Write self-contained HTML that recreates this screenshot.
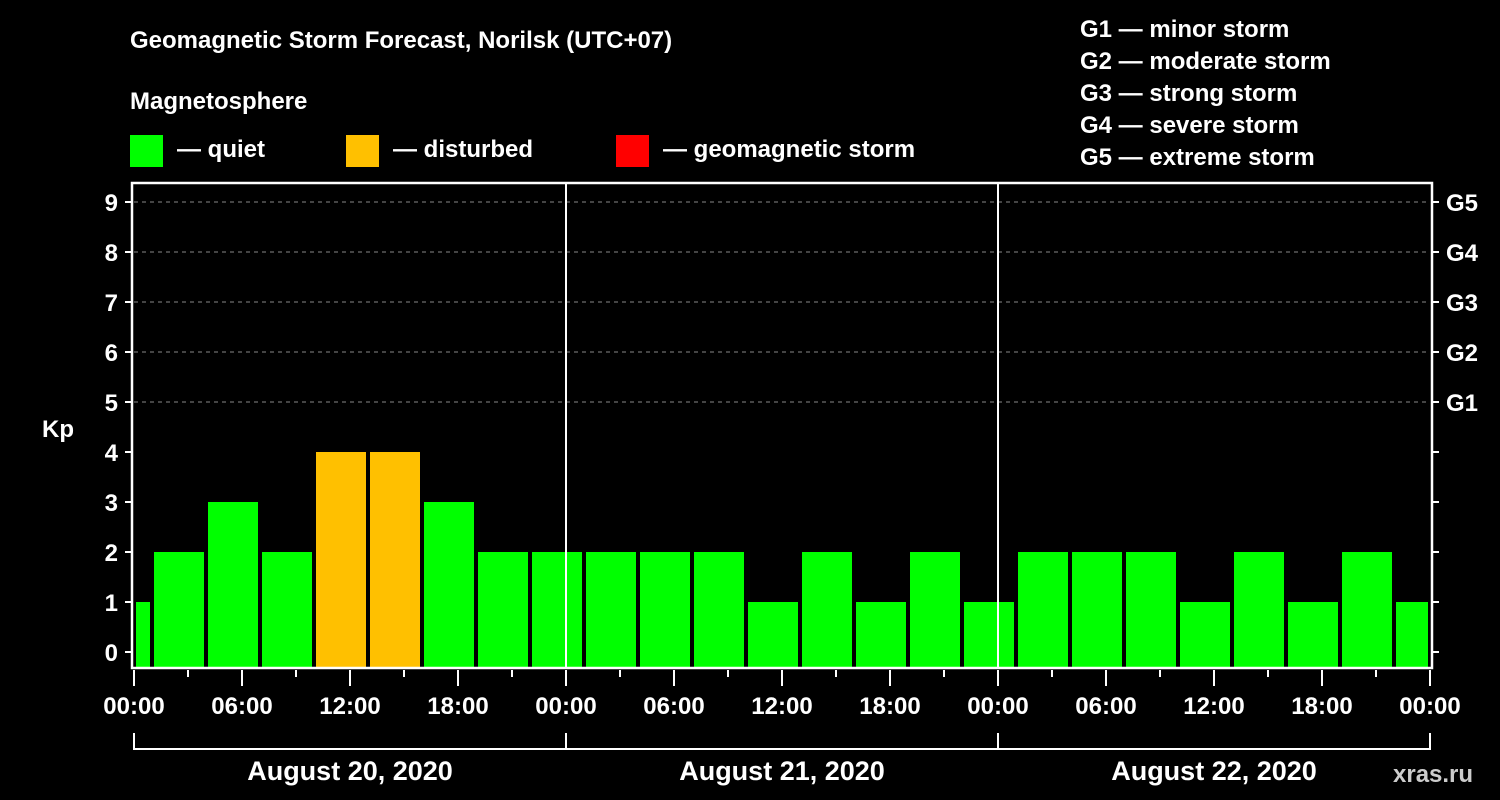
<!DOCTYPE html>
<html><head><meta charset="utf-8"><style>
html,body{margin:0;padding:0;background:#000;width:1500px;height:800px;overflow:hidden}
svg text{font-family:"Liberation Sans",Arial,sans-serif;font-weight:bold;fill:#fff}
</style></head><body>
<svg id="chart" width="1500" height="800" xmlns="http://www.w3.org/2000/svg">
<text x="130" y="48" font-size="24">Geomagnetic Storm Forecast, Norilsk (UTC+07)</text>
<text x="130" y="109" font-size="24">Magnetosphere</text>
<g><rect x="130" y="135" width="33" height="32" fill="#00ff00"/><text x="177" y="157" font-size="24">— quiet</text></g>
<g><rect x="346" y="135" width="33" height="32" fill="#ffc000"/><text x="393" y="157" font-size="24">— disturbed</text></g>
<g><rect x="616" y="135" width="33" height="32" fill="#ff0000"/><text x="663" y="157" font-size="24">— geomagnetic storm</text></g>
<g font-size="24">
<text x="1080" y="37">G1 — minor storm</text>
<text x="1080" y="69">G2 — moderate storm</text>
<text x="1080" y="101">G3 — strong storm</text>
<text x="1080" y="133">G4 — severe storm</text>
<text x="1080" y="165">G5 — extreme storm</text>
</g>
<text x="42" y="437" font-size="24">Kp</text>
<text x="1393" y="782" font-size="24" fill="#fff" style="fill:#ccc">xras.ru</text>
<g id="plot"></g>
</svg>
<script>
const kpValues = [1, 2, 3, 2, 4, 4, 3, 2, 2, 2, 2, 2, 1, 2, 1, 2, 1, 2, 2, 2, 1, 2, 1, 2, 1];
const kpStatus = ["q","q","q","q","d","d","q","q","q","q","q","q","q","q","q","q","q","q","q","q","q","q","q","q","q"];
const yTicks = [0,1,2,3,4,5,6,7,8,9];
const gLabels = ["G1","G2","G3","G4","G5"];
const hourLabels = ["00:00","06:00","12:00","18:00"];
const dayLabels = ["August 20, 2020","August 21, 2020","August 22, 2020"];
const firstBlockStartHour = -2; // local hours from start

const NS="http://www.w3.org/2000/svg";
const plot=document.getElementById('plot');
const X0=134, PX_H=18, X1=X0+72*PX_H, TOP=183, BOT=668;
const xs=h=>X0+h*PX_H;
const ys=k=>652-50*k;
function mk(tag,attrs){const e=document.createElementNS(NS,tag);for(const k in attrs)e.setAttribute(k,attrs[k]);plot.appendChild(e);return e;}
const colors={q:"#00ff00",d:"#ffc000",s:"#ff0000"};
// grid
for(let k=5;k<=9;k++){
  const l=mk('line',{x1:X0,x2:X1,y1:ys(k),y2:ys(k),stroke:"#888","stroke-dasharray":"4,4","stroke-width":1});
  
  
}
// bars
kpValues.forEach((v,i)=>{
  let a=xs(firstBlockStartHour+3*i)+2, b=xs(firstBlockStartHour+3*i+3)-2;
  a=Math.max(a,X0+2); b=Math.min(b,X1-2);
  const r=mk('rect',{x:a,y:ys(v),width:b-a,height:BOT-ys(v),fill:colors[kpStatus[i]]});
  
  
});
// frame
const fr=mk('path',{d:`M${X0-2},${BOT} L${X0-2},${TOP} L${X1+2},${TOP} L${X1+2},${BOT} Z`,fill:"none",stroke:"#fff","stroke-width":2.5});


for(let d=1;d<3;d++){
  const l=mk('line',{x1:xs(24*d),x2:xs(24*d),y1:TOP,y2:BOT,stroke:"#fff","stroke-width":2});
  
  
}
// y ticks
yTicks.forEach(k=>{
  mk('line',{x1:X0-9,x2:X0-2,y1:ys(k),y2:ys(k),stroke:"#fff","stroke-width":2});
  mk('line',{x1:X1+2,x2:X1+9,y1:ys(k),y2:ys(k),stroke:"#fff","stroke-width":2});
  const t=mk('text',{x:X0-16,y:ys(k)+9,"font-size":24,"text-anchor":"end"});
  t.textContent=k;
  
  
});
gLabels.forEach((g,i)=>{
  const t=mk('text',{x:X1+16,y:ys(5+i)+9,"font-size":24});
  t.textContent=g;
  
  
});
// x ticks
for(let h=0;h<=72;h+=3){
  const long=h%6===0;
  mk('line',{x1:xs(h),x2:xs(h),y1:BOT+2,y2:BOT+(long?18:9),stroke:"#fff","stroke-width":2});
  if(long){
    const lbl=h%24===0?"00:00":hourLabels[(h%24)/6];
    const t=mk('text',{x:xs(h),y:714,"font-size":24,"text-anchor":"middle"});
    t.textContent=lbl;
    
    
  }
}
// day brackets
dayLabels.forEach((d,i)=>{
  const a=xs(24*i),b=xs(24*i+24);
  mk('path',{d:`M${a},733 L${a},749 L${b},749 L${b},733`,fill:"none",stroke:"#fff","stroke-width":2});
  const t=mk('text',{x:(a+b)/2,y:780,"font-size":27,"text-anchor":"middle"});
  t.textContent=d;
  
  
});
</script>
</body></html>
